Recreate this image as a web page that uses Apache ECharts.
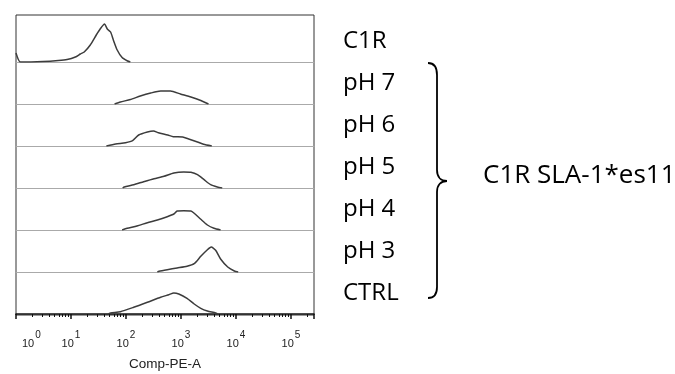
<!DOCTYPE html>
<html>
<head>
<meta charset="utf-8">
<script src="https://cdn.jsdelivr.net/npm/echarts@6/dist/echarts.min.js"></script>
<style>
  html, body { margin: 0; padding: 0; background: #fff; }
  #chart { width: 675px; height: 374px; }
</style>
</head>
<body>
<div id="chart"></div>
<script>
// lanes, top to bottom
const samples = ["C1R", "pH 7", "pH 6", "pH 5", "pH 4", "pH 3", "CTRL"];
const groupLabel = "C1R SLA-1*es11";
const xTitle = "Comp-PE-A";

// Comp-PE-A intensity and relative count along each histogram
const c1rX = [1, 1.2, 3.1, 5.9, 8.5, 12, 14.8, 17.4, 22.4, 28.8, 33.9, 40.7, 45.7, 52.5, 58.9, 69.2, 85, 107, 120];
const c1rY = [9, 0, 0.5, 1.5, 2.5, 5, 8, 10, 17, 27, 33, 38, 33, 30, 22, 12, 4.5, 1, 0];

const ph7X = [62, 79, 120, 182, 282, 427, 646, 977, 1514, 2291, 3162];
const ph7Y = [0, 2, 4.5, 8, 11, 13, 13, 10, 7, 3.5, 0];

const ph6X = [44, 65, 98, 132, 170, 245, 316, 389, 575, 724, 1072, 1380, 1995, 2570, 3631];
const ph6Y = [0, 2, 3.3, 5.3, 11, 14, 15, 13.3, 11, 9.3, 9, 7, 4, 1.7, 0];

const ph5X = [87, 93, 138, 209, 324, 490, 741, 1122, 1514, 1995, 2630, 3467, 4571, 5623];
const ph5Y = [0, 1, 3.3, 6.3, 9.3, 11.7, 15, 16, 15.7, 13.3, 8.3, 3.3, 1, 0];

const ph4X = [85, 105, 158, 245, 372, 562, 741, 851, 1122, 1514, 1738, 2291, 3020, 3981, 5248];
const ph4Y = [0, 1.7, 4, 7.3, 10, 13.3, 16, 19, 19.3, 19, 16.7, 10.7, 5, 1.7, 0];

const ph3X = [372, 398, 562, 851, 1288, 1738, 2291, 3020, 3548, 4266, 5248, 7079, 9333, 10965];
const ph3Y = [0, 0.7, 2.3, 4, 5.7, 8.3, 15.7, 22.3, 25, 21.7, 13, 5, 1, 0];

const ctrlX = [48, 52.5, 79, 138, 245, 427, 603, 741, 912, 1288, 1738, 2291, 3020, 4266, 4600];
const ctrlY = [0, 1, 2.3, 6.7, 11.7, 16.7, 19.3, 21, 20, 15.7, 10, 5.7, 3, 1, 0];

const laneX = [c1rX, ph7X, ph6X, ph5X, ph4X, ph3X, ctrlX];
const laneY = [c1rY, ph7Y, ph6Y, ph5Y, ph4Y, ph3Y, ctrlY];

const chart = echarts.init(document.getElementById("chart"));

const plotLeft = 16;
const plotWidth = 298;
const laneH = 42;
const last = samples.length - 1;

const grids = [];
const xAxes = [];
const yAxes = [];
const series = [];

const tickFont = { fontFamily: "Liberation Sans", color: "#222" };

samples.forEach((name, i) => {
  const isBottom = i === last;
  grids.push({ left: plotLeft, width: plotWidth, top: 20 + laneH * i, height: laneH });

  xAxes.push({
    type: "log",
    logBase: 10,
    gridIndex: i,
    min: 1,
    max: 262144,
    axisLine: { lineStyle: { color: isBottom ? "#111" : "#aaa", width: isBottom ? 1.5 : 1 } },
    axisTick: { show: isBottom, length: 5, lineStyle: { color: "#111", width: 1.5 } },
    minorTick: { show: isBottom, splitNumber: 9, length: 3, lineStyle: { color: "#111", width: 1 } },
    splitLine: { show: false },
    axisLabel: {
      show: isBottom,
      margin: 20,
      alignMinLabel: "left",
      formatter: (v) => {
        const e = Math.round(Math.log10(v));
        if (Math.abs(Math.log10(v) - e) > 1e-6) return "";
        return e === 0 ? `{b0|10}{s|${e}}` : `{b|10}{s|${e}}`;
      },
      rich: {
        b: { ...tickFont, fontSize: 11, lineHeight: 11, padding: [8, 0, 0, 0] },
        b0: { ...tickFont, fontSize: 11, lineHeight: 11, padding: [8, 0, 0, 6] },
        s: { ...tickFont, fontSize: 10, lineHeight: 10, padding: [0, 0, 9, 1] },
      },
    },
    name: isBottom ? xTitle : "",
    nameLocation: "middle",
    nameGap: 43,
    nameTextStyle: { ...tickFont, fontSize: 13.5 },
  });

  yAxes.push({
    type: "value",
    gridIndex: i,
    position: "right",
    min: 0,
    max: laneH,
    axisLine: { show: false },
    axisTick: { show: false },
    axisLabel: { show: false },
    splitLine: { show: false },
    name: name,
    nameLocation: "middle",
    nameRotate: 0,
    nameGap: 29,
    nameTextStyle: { fontFamily: "Open Sans", fontSize: 24, color: "#000" },
  });

  series.push({
    type: "line",
    xAxisIndex: i,
    yAxisIndex: i,
    data: laneX[i].map((x, k) => [x, laneY[i][k]]),
    showSymbol: false,
    smooth: 0.2,
    lineStyle: { color: "#3c3c3c", width: 1.5 },
  });
});

// outer frame
grids.push({ left: plotLeft, width: plotWidth, top: 15, height: 300, show: true, borderColor: "#333", borderWidth: 1 });
xAxes.push({ type: "value", gridIndex: grids.length - 1, show: false });
yAxes.push({ type: "value", gridIndex: grids.length - 1, show: false });

const braceStyle = { fill: null, stroke: "#000", lineWidth: 1.8 };

chart.setOption({
  animation: false,
  grid: grids,
  xAxis: xAxes,
  yAxis: yAxes,
  series: series,
  graphic: [
    {
      type: "group",
      children: [
        { type: "bezierCurve", shape: { x1: 428, y1: 63, cpx1: 434, cpy1: 63, cpx2: 437, cpy2: 67, x2: 437, y2: 75 }, style: braceStyle },
        { type: "line", shape: { x1: 437, y1: 75, x2: 437, y2: 170 }, style: braceStyle },
        { type: "bezierCurve", shape: { x1: 437, y1: 170, cpx1: 437, cpy1: 177, cpx2: 441, cpy2: 181, x2: 447, y2: 181 }, style: braceStyle },
        { type: "bezierCurve", shape: { x1: 447, y1: 181, cpx1: 441, cpy1: 181, cpx2: 437, cpy2: 185, x2: 437, y2: 192 }, style: braceStyle },
        { type: "line", shape: { x1: 437, y1: 192, x2: 437, y2: 287 }, style: braceStyle },
        { type: "bezierCurve", shape: { x1: 437, y1: 287, cpx1: 437, cpy1: 295, cpx2: 434, cpy2: 298, x2: 428, y2: 298 }, style: braceStyle },
      ],
    },
    {
      type: "text",
      x: 483,
      y: 176,
      style: { text: groupLabel, fontFamily: "Open Sans", fontSize: 26, fill: "#000", align: "left", verticalAlign: "middle" },
    },
  ],
});
</script>
</body>
</html>
